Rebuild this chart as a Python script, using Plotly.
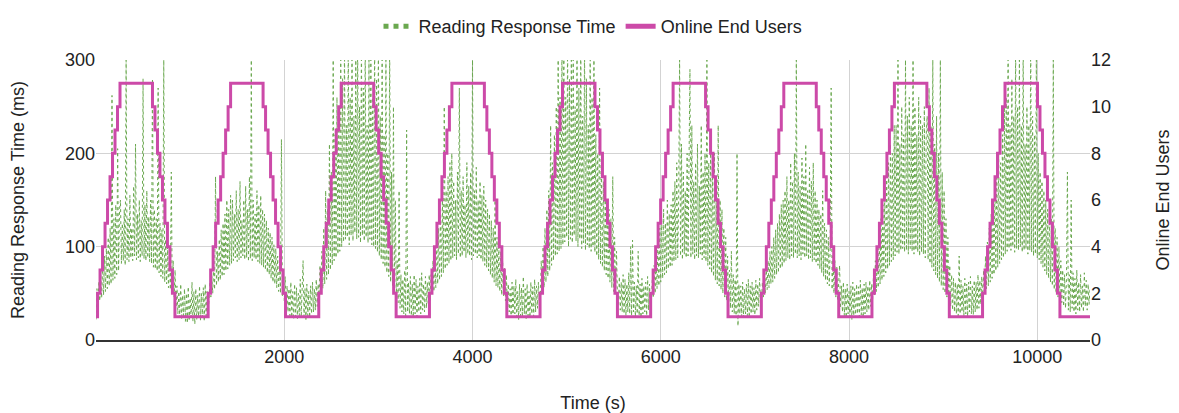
import plotly.graph_objects as go

# ---------------- data ----------------
sample_interval_s = 10          # response-time samples, one every 10 s
end_time_s = 10560

# Reading response time (ms), one list per load cycle
rt_cycle_1 = [22, 55,
              38, 62, 42, 70, 45, 82, 48, 90, 52, 98, 55, 110, 58, 120, 60, 262, 64, 130, 66, 145, 70, 205, 74, 140,
              150, 82, 125, 85, 140, 80, 300, 86, 130, 84, 155, 88, 120, 85, 165, 90, 210, 86, 135, 88, 150, 84, 128, 90, 280, 87, 145, 85, 160, 88, 132, 84, 150, 82, 280,
              78, 140, 76, 130, 74, 270, 72, 125, 68, 118, 66, 300, 62, 108, 60, 100, 56, 95, 54, 180, 50, 85, 46, 75,
              35, 58, 28, 52, 24, 60, 22, 48, 26, 55, 20, 50, 18, 57, 22, 45, 24, 62, 20, 52, 17, 55, 22, 48, 25, 58, 21, 50, 24, 56, 20, 60, 26, 52, 30]
rt_cycle_2 = [42, 62, 46, 70, 50, 80, 54, 175, 58, 95, 62, 108, 64, 118, 68, 125, 70, 135, 74, 150, 76, 140, 80, 155,
              82, 150, 85, 135, 88, 160, 84, 140, 86, 170, 88, 128, 90, 150, 86, 165, 88, 140, 84, 175, 87, 300, 85, 150, 88, 135, 86, 160, 84, 145, 82, 155, 80, 140,
              78, 135, 75, 128, 72, 120, 70, 115, 66, 110, 62, 102, 60, 98, 56, 90, 52, 85, 50, 215, 46, 75, 42, 68,
              34, 58, 30, 55, 26, 62, 24, 52, 22, 60, 25, 56, 23, 50, 26, 65, 24, 58, 85, 25, 55, 22, 60, 26, 52, 24, 58, 28, 62, 30, 55, 32, 65, 36, 60]
rt_cycle_3 = [45, 80, 50, 95, 55, 120, 60, 160, 65, 140, 70, 210, 75, 180, 80, 300, 85, 220, 88, 260, 92, 240, 95, 320,
              100, 280, 105, 320, 108, 230, 110, 320, 102, 260, 112, 320, 106, 240, 115, 300, 108, 320, 110, 250, 104, 320, 112, 270, 106, 320, 110, 230, 104, 300, 108, 320, 102, 260, 100,
              320, 98, 280, 94, 320, 90, 240, 86, 320, 82, 220, 78, 300, 72, 200, 68, 320, 62, 180, 58, 250, 52, 150, 46,
              85, 40, 160, 34, 70, 30, 65, 28, 75, 26, 225, 30, 62, 28, 68, 26, 60, 24, 70, 28, 65, 25, 58, 30, 66, 28, 72, 32, 60, 30, 68, 34, 62, 38, 70]
rt_cycle_4 = [42, 70, 48, 85, 52, 95, 56, 110, 60, 120, 64, 135, 68, 150, 72, 250, 76, 160, 80, 175, 82, 190, 85, 200,
              88, 170, 90, 150, 86, 180, 92, 270, 88, 160, 90, 175, 94, 145, 88, 190, 92, 165, 90, 180, 86, 300, 90, 160, 92, 185, 88, 150, 90, 170, 86, 155, 84, 165,
              80, 150, 78, 140, 74, 135, 70, 128, 66, 120, 62, 150, 58, 110, 56, 100, 52, 95, 48, 85, 46, 78, 42, 70,
              36, 60, 30, 55, 26, 62, 24, 58, 28, 65, 25, 52, 22, 60, 26, 56, 24, 68, 28, 55, 23, 60, 26, 52, 24, 62, 28, 57, 25, 65, 30, 58, 34, 62, 38]
rt_cycle_5 = [45, 85, 50, 100, 56, 120, 62, 140, 68, 160, 74, 230, 80, 190, 85, 220, 90, 250, 92, 300, 95, 260, 98, 320,
              102, 320, 105, 260, 110, 320, 100, 280, 108, 300, 104, 320, 112, 250, 106, 320, 100, 270, 108, 320, 98, 240, 104, 320, 96, 280, 102, 230, 98, 320, 95, 260, 100, 300, 94,
              220, 90, 200, 86, 270, 82, 190, 78, 170, 74, 160, 70, 150, 66, 140, 62, 130, 56, 175, 52, 110, 48, 95, 44,
              38, 68, 32, 62, 30, 70, 28, 65, 26, 60, 30, 72, 28, 100, 26, 107, 30, 62, 25, 58, 28, 95, 26, 60, 24, 66, 28, 58, 30, 62, 26, 68, 32, 60, 36]
rt_cycle_6 = [40, 65, 45, 80, 50, 95, 55, 110, 58, 120, 62, 130, 66, 140, 70, 125, 72, 150, 76, 135, 78, 145, 80, 160,
              84, 170, 86, 190, 88, 150, 300, 90, 210, 86, 180, 92, 160, 88, 200, 90, 175, 290, 88, 230, 92, 170, 86, 190, 90, 210, 88, 165, 92, 230, 86, 180, 88, 200,
              84, 300, 80, 190, 76, 210, 72, 180, 68, 200, 64, 170, 60, 230, 58, 150, 54, 140, 50, 120, 46, 110, 42, 90,
              38, 75, 34, 95, 30, 70, 28, 65, 26, 200, 15, 60, 28, 58, 25, 62, 24, 55, 28, 60, 26, 65, 24, 58, 28, 62, 30, 56, 27, 64, 32, 60, 36, 66, 40]
rt_cycle_7 = [42, 62, 46, 70, 50, 78, 54, 85, 56, 95, 60, 100, 62, 110, 66, 118, 70, 125, 72, 135, 76, 145, 78, 150,
              82, 160, 85, 175, 88, 150, 86, 190, 90, 170, 88, 200, 92, 300, 88, 180, 90, 165, 86, 195, 92, 175, 88, 210, 90, 160, 86, 185, 88, 170, 84, 190, 86, 160, 82,
              150, 80, 140, 76, 135, 72, 160, 68, 125, 64, 118, 60, 110, 58, 100, 270, 54, 90, 50, 85, 46, 78, 42, 72,
              80, 34, 58, 30, 62, 26, 55, 24, 60, 28, 52, 25, 58, 22, 62, 26, 55, 24, 60, 28, 57, 25, 64, 27, 56, 24, 60, 28, 62, 30, 58, 32, 64, 36, 60]
rt_cycle_8 = [42, 70, 48, 85, 52, 100, 56, 115, 60, 130, 64, 145, 68, 160, 72, 175, 76, 190, 80, 210, 84, 200, 86, 230,
              90, 230, 94, 300, 92, 210, 96, 250, 98, 220, 94, 300, 96, 240, 92, 260, 98, 230, 95, 300, 92, 250, 96, 220, 94, 260, 90, 240, 94, 230, 92, 250, 88, 220,
              240, 86, 270, 82, 230, 78, 300, 74, 210, 70, 240, 66, 200, 62, 300, 58, 180, 54, 160, 50, 130, 46, 110, 42,
              80, 36, 70, 32, 66, 30, 62, 28, 60, 26, 90, 28, 64, 30, 58, 26, 66, 28, 60, 25, 62, 30, 68, 28, 58, 27, 64, 30, 62, 32, 70, 34, 64, 38, 68]
rt_cycle_9 = [45, 75, 50, 90, 55, 105, 58, 120, 62, 135, 66, 150, 70, 165, 74, 180, 78, 200, 82, 190, 86, 220, 88, 250,
              92, 260, 95, 320, 98, 230, 96, 280, 100, 240, 94, 320, 98, 250, 96, 300, 100, 230, 94, 320, 96, 210, 98, 250, 92, 230, 96, 320, 94, 240, 90, 220, 92, 300, 88,
              200, 86, 180, 82, 170, 78, 160, 74, 150, 70, 140, 66, 135, 62, 130, 58, 300, 54, 120, 50, 110, 46, 100, 42,
              85, 40, 75, 36, 70, 34, 65, 180, 32, 70, 30, 150, 34, 72, 30, 66, 28, 75, 32, 62, 30, 70, 34, 58, 30, 72, 36, 64, 32, 60, 38, 55]

# Online end users: stepped load profile
top_start_s = [255, 1430, 2605, 3781, 4956, 6131, 7307, 8482, 9657]  # time the 11-user plateau begins
step_hold_s = 26.5        # time each intermediate user level is held
top_hold_s = 345          # time the 11-user plateau is held
users_min = 1
users_max = 11

x_ticks = [2000, 4000, 6000, 8000, 10000]
x_tick_labels = ["2000", "4000", "6000", "8000", "10000"]
y_left_ticks = [0, 100, 200, 300]
y_right_ticks = [0, 2, 4, 6, 8, 10, 12]

# ---------------- build traces ----------------
response_ms = (rt_cycle_1 + rt_cycle_2 + rt_cycle_3 + rt_cycle_4 + rt_cycle_5 +
               rt_cycle_6 + rt_cycle_7 + rt_cycle_8 + rt_cycle_9)
response_t = [i * sample_interval_s for i in range(len(response_ms))]

users_t = [0]
users_v = [users_min]
for T in top_start_s:
    for lvl in range(users_min + 1, users_max + 1):
        users_t.append(T - (users_max - lvl) * step_hold_s)
        users_v.append(lvl)
    for lvl in range(users_max - 1, users_min - 1, -1):
        users_t.append(T + top_hold_s + (users_max - 1 - lvl) * step_hold_s)
        users_v.append(lvl)
users_t.append(end_time_s)
users_v.append(users_min)

GREEN = "#6aa84f"
MAGENTA = "#cc4aa8"
FONT = "Arial, Liberation Sans, sans-serif"
TXT = "#222222"

fig = go.Figure()
fig.add_trace(go.Scatter(
    x=response_t, y=response_ms, mode="lines",
    line=dict(color=GREEN, width=1, dash="dot"),
    name="Reading Response Time", showlegend=False, yaxis="y"))
fig.add_trace(go.Scatter(
    x=users_t, y=users_v, mode="lines", line_shape="hv",
    line=dict(color=MAGENTA, width=3),
    name="Online End Users", showlegend=False, yaxis="y2"))
# legend entries
fig.add_trace(go.Scatter(
    x=[None], y=[None], mode="lines",
    line=dict(color=GREEN, width=5, dash="dot"),
    name="Reading Response Time"))
fig.add_trace(go.Scatter(
    x=[None], y=[None], mode="lines",
    line=dict(color=MAGENTA, width=5),
    name="Online End Users"))

# the page adds an 8 px body margin, so the figure is 8 px smaller than the window
fig.update_layout(
    width=1171, height=405,
    margin=dict(l=88, r=89, t=52, b=73),
    paper_bgcolor="white", plot_bgcolor="white",
    font=dict(family=FONT, size=18, color=TXT),
    legend=dict(orientation="h", x=0.5, xanchor="center", xref="paper",
                y=1.0, yref="container", yanchor="top",
                font=dict(size=18, color=TXT), itemwidth=30,
                bgcolor="rgba(0,0,0,0)"),
    xaxis=dict(range=[0, end_time_s], tickvals=x_ticks, ticktext=x_tick_labels,
               showgrid=True, gridcolor="#d3d3d3", gridwidth=1,
               showline=True, linecolor="#333333", linewidth=1.5,
               zeroline=False, ticks="", tickfont=dict(size=18), automargin=False,
               title=dict(text="Time (s)", standoff=30, font=dict(size=18))),
    yaxis=dict(range=[0, 300], tickvals=y_left_ticks,
               showgrid=True, gridcolor="#d3d3d3", gridwidth=1,
               zeroline=False, showline=False, ticks="", tickfont=dict(size=18),
               automargin=False,
               title=dict(text="Reading Response Time (ms)", standoff=36, font=dict(size=18))),
    yaxis2=dict(range=[0, 12], tickvals=y_right_ticks, overlaying="y", side="right",
                showgrid=False, zeroline=False, showline=False, ticks="",
                tickfont=dict(size=18), automargin=False,
                title=dict(text="Online End Users", standoff=46, font=dict(size=18))),
)

fig.write_html("out.html")
